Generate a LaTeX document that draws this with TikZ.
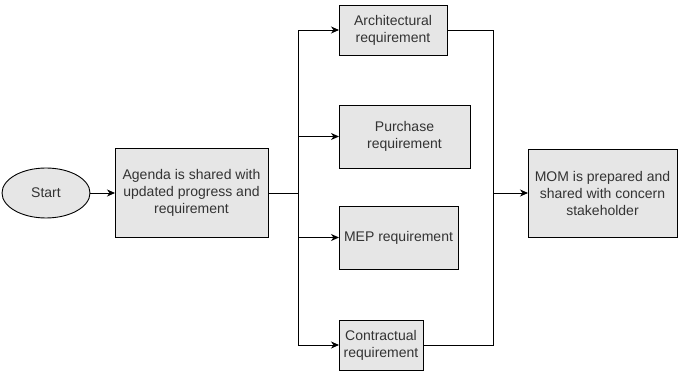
\documentclass[tikz,border=0pt]{standalone}
\usepackage{fontspec}
\setmainfont{Liberation Sans}
\usetikzlibrary{shapes.geometric,arrows.meta}
\definecolor{boxfill}{HTML}{E6E6E6}
\definecolor{boxtext}{HTML}{333333}

\begin{document}
\begin{tikzpicture}[
    x = 1pt,
    y = -1pt,
    >={Stealth[length=8pt, width=7pt, inset=2.5pt]},
    step_box/.style = {rectangle, draw=black, fill=boxfill, line width=0.9pt,
              inner sep=0pt, outer sep=0pt, align=center, text=boxtext,
              font=\fontsize{14}{17}\selectfont},
    start_node/.style = {ellipse, draw=black, fill=boxfill, line width=0.9pt,
              inner sep=0pt, outer sep=0pt, text=boxtext,
              font=\fontsize{14}{17}\selectfont,
              minimum width=88pt, minimum height=50pt},
    link/.style = {black, solid, line width=0.9pt},
    ]

\useasboundingbox (0,0) rectangle (678,371);

\node[start_node] (start) at (46,193){Start};
\node[step_box, minimum width=153pt, minimum height=89pt] (agenda) at (191.5,193)
    {Agenda is shared with\\updated progress and\\requirement};
\node[step_box, minimum width=108pt, minimum height=50pt] (arch) at (393,30)
    {Architectural\\requirement};
\node[step_box, minimum width=131pt, minimum height=63pt] (purch) at (404.5,136.5)
    {Purchase\\requirement};
\node[step_box, minimum width=119pt, minimum height=63pt] (mep) at (398.5,237.5)
    {MEP requirement};
\node[step_box, minimum width=84pt, minimum height=50pt] (contr) at (381,345)
    {Contractual\\requirement};
\node[step_box, minimum width=149pt, minimum height=88pt] (mom) at (602.5,193)
    {MOM is prepared and\\shared with concern\\stakeholder};

\coordinate (split) at (298,193);
\coordinate (join) at (493,193);

\draw [->, link] (start) -- (agenda);
\draw [link] (agenda) -- (split);
\draw [->, link] (split) |- (arch);
\draw [->, link] (split) |- (purch);
\draw [->, link] (split) |- (mep);
\draw [->, link] (split) |- (contr);
\draw [link] (arch) -| (join);
\draw [link] (contr) -| (join);
\draw [->, link] (join) -- (mom);

\end{tikzpicture}
\end{document}
